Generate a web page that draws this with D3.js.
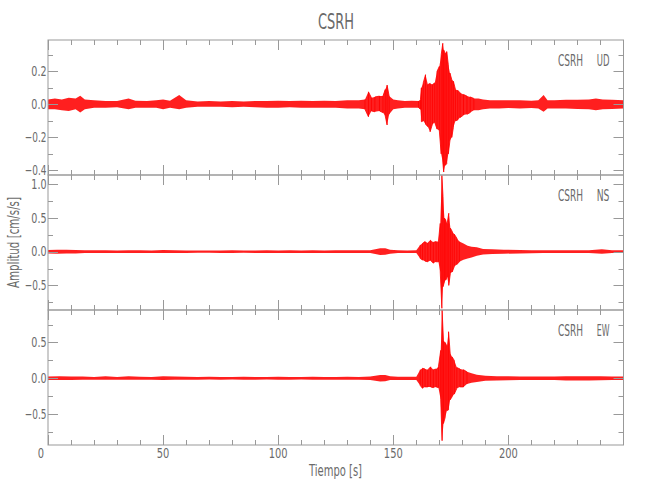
<!DOCTYPE html>
<html>
<head>
<meta charset="utf-8">
<script src="https://cdn.jsdelivr.net/npm/d3@7"></script>
<style>
  body { margin: 0; background: #fff; }
  svg { display: block; }
  text { font-family: "Liberation Sans Narrow", "DejaVu Sans Condensed", "Liberation Sans", sans-serif; fill: #6a6a6a; }
</style>
</head>
<body>
<svg id="chart" width="650" height="500"></svg>
<script>
// ---------------- data ----------------
const stationName = "CSRH";
const channels = ["UD", "NS", "EW"];
const xLabel = "Tiempo [s]";
const yLabel = "Amplitud [cm/s/s]";
const timeDomain = [0, 250];
const xMajorTicks = [0, 50, 100, 150, 200];
const xMinorStep = 10;

const udDomain = [-0.428, 0.39];
const nsDomain = [-0.865, 1.138];
const ewDomain = [-0.93, 0.953];
const udTicks = [-0.4, -0.2, 0.0, 0.2];
const nsTicks = [-0.5, 0.0, 0.5, 1.0];
const ewTicks = [-0.5, 0.0, 0.5];
const udMinorStep = 0.1;
const nsMinorStep = 0.25;
const ewMinorStep = 0.25;

// envelope readings: [time s, max, min]
const udEnvelope = [
  [0,0.03,-0.03],[3,0.035,-0.03],[6,0.03,-0.035],[9,0.04,-0.04],[12,0.035,-0.03],[14,0.052,-0.05],
  [16,0.03,-0.03],[20,0.025,-0.02],[25,0.02,-0.02],[30,0.02,-0.018],[35,0.035,-0.03],[38,0.022,-0.02],
  [43,0.02,-0.02],[47,0.025,-0.02],[50,0.03,-0.03],[53,0.022,-0.02],[57,0.056,-0.03],[60,0.025,-0.02],
  [65,0.018,-0.015],[70,0.02,-0.015],[75,0.018,-0.015],[80,0.02,-0.018],[85,0.018,-0.015],[90,0.02,-0.018],
  [95,0.02,-0.02],[100,0.022,-0.02],[105,0.02,-0.018],[110,0.022,-0.02],[115,0.02,-0.02],[120,0.022,-0.02],
  [125,0.02,-0.02],[130,0.025,-0.025],[135,0.025,-0.025],[137.7,0.03,-0.03],[139.2,0.076,-0.075],
  [140.5,0.04,-0.04],[142,0.045,-0.045],[144,0.05,-0.04],[145.5,0.05,-0.05],[146.5,0.09,-0.07],
  [147.3,0.117,-0.125],[148.2,0.05,-0.06],[150,0.03,-0.03],[152,0.025,-0.025],[155,0.02,-0.02],
  [158,0.022,-0.02],[161,0.02,-0.02],[161.8,0.03,-0.03],[162.2,0.1,-0.105],[163,0.13,-0.1],
  [164,0.18,-0.12],[165,0.12,-0.135],[166,0.127,-0.166],[167,0.12,-0.12],[168,0.13,-0.11],
  [169,0.2,-0.15],[170,0.23,-0.16],[170.8,0.3,-0.3],[171.5,0.37,-0.35],[171.9,0.33,-0.41],
  [172.5,0.31,-0.37],[173.2,0.32,-0.36],[173.9,0.24,-0.3],[174.6,0.19,-0.22],[175.4,0.15,-0.2],
  [176.1,0.14,-0.14],[177,0.09,-0.1],[178,0.085,-0.095],[179,0.07,-0.08],[180.5,0.06,-0.065],
  [182,0.05,-0.06],[183.4,0.045,-0.05],[185,0.036,-0.035],[187,0.035,-0.035],[189,0.03,-0.03],
  [192,0.025,-0.025],[196,0.025,-0.025],[200,0.025,-0.022],[205,0.025,-0.025],[210,0.022,-0.022],
  [213,0.025,-0.025],[215.3,0.056,-0.045],[217,0.025,-0.025],[220,0.025,-0.025],[225,0.028,-0.025],
  [230,0.028,-0.028],[235,0.03,-0.03],[238,0.035,-0.035],[241,0.03,-0.03],[245,0.028,-0.028],[250,0.025,-0.025]
];
const nsEnvelope = [
  [0,0.025,-0.025],[4,0.03,-0.03],[8,0.03,-0.025],[12,0.025,-0.025],[16,0.02,-0.02],[20,0.02,-0.018],
  [25,0.022,-0.018],[30,0.018,-0.018],[35,0.02,-0.018],[40,0.02,-0.018],[45,0.018,-0.018],[50,0.025,-0.02],
  [55,0.02,-0.02],[60,0.018,-0.018],[65,0.018,-0.015],[70,0.018,-0.015],[75,0.018,-0.018],[80,0.02,-0.018],
  [85,0.018,-0.015],[90,0.018,-0.018],[95,0.02,-0.018],[100,0.018,-0.018],[105,0.02,-0.018],[110,0.018,-0.018],
  [115,0.02,-0.02],[120,0.018,-0.018],[125,0.02,-0.02],[130,0.02,-0.018],[135,0.02,-0.02],[140,0.022,-0.02],
  [144.3,0.05,-0.05],[146.5,0.05,-0.045],[148.6,0.03,-0.03],[152,0.02,-0.02],[156,0.018,-0.018],
  [160,0.02,-0.02],[161.7,0.1,-0.1],[162.7,0.124,-0.124],[163.8,0.15,-0.14],[165,0.13,-0.15],
  [166.2,0.17,-0.13],[167.4,0.14,-0.17],[168.6,0.15,-0.15],[169.6,0.15,-0.15],[170.4,0.42,-0.3],
  [171.1,1.13,-0.84],[171.6,0.82,-0.52],[172.2,0.5,-0.45],[172.8,0.47,-0.42],[173.4,0.42,-0.37],
  [174.1,0.57,-0.5],[174.8,0.35,-0.32],[175.6,0.3,-0.3],[176.5,0.26,-0.22],[177.6,0.2,-0.19],
  [178.7,0.15,-0.15],[180.5,0.12,-0.12],[182.3,0.09,-0.1],[184,0.075,-0.085],[186.3,0.065,-0.06],
  [189,0.04,-0.04],[193,0.035,-0.035],[198,0.03,-0.03],[205,0.025,-0.025],[210,0.022,-0.022],
  [215,0.02,-0.02],[220,0.022,-0.02],[225,0.02,-0.02],[230,0.022,-0.02],[235,0.02,-0.02],
  [240.6,0.035,-0.03],[245,0.02,-0.02],[250,0.02,-0.02]
];
const ewEnvelope = [
  [0,0.025,-0.025],[5,0.03,-0.025],[10,0.025,-0.025],[15,0.025,-0.02],[20,0.02,-0.02],[25,0.03,-0.02],
  [30,0.02,-0.02],[35,0.03,-0.02],[40,0.022,-0.02],[45,0.02,-0.02],[50,0.03,-0.025],[55,0.025,-0.02],
  [60,0.022,-0.02],[65,0.02,-0.02],[70,0.022,-0.018],[75,0.02,-0.02],[80,0.02,-0.018],[85,0.022,-0.02],
  [90,0.02,-0.02],[95,0.02,-0.018],[100,0.022,-0.02],[105,0.02,-0.02],[110,0.02,-0.018],[115,0.022,-0.02],
  [120,0.02,-0.02],[125,0.02,-0.02],[130,0.022,-0.02],[135,0.02,-0.02],[140,0.025,-0.025],
  [144.3,0.046,-0.046],[146.5,0.045,-0.04],[148.6,0.03,-0.025],[152,0.023,-0.023],[156,0.022,-0.022],
  [160,0.023,-0.023],[161.7,0.12,-0.1],[162.7,0.14,-0.14],[163.8,0.13,-0.12],[165,0.12,-0.12],
  [166.2,0.16,-0.12],[167.4,0.12,-0.13],[168.6,0.13,-0.12],[169.6,0.16,-0.13],[170.6,0.39,-0.3],
  [171.2,0.95,-0.87],[171.8,0.53,-0.63],[172.5,0.5,-0.55],[173.3,0.45,-0.45],[174,0.65,-0.44],
  [174.7,0.35,-0.3],[175.5,0.3,-0.26],[176.5,0.25,-0.22],[177.6,0.15,-0.14],[179,0.13,-0.12],
  [180.5,0.12,-0.12],[182,0.09,-0.08],[184,0.07,-0.06],[186.3,0.05,-0.05],[190,0.035,-0.035],
  [195,0.03,-0.03],[200,0.028,-0.028],[205,0.025,-0.025],[210,0.025,-0.025],[215,0.025,-0.025],
  [220,0.025,-0.025],[225,0.03,-0.03],[230,0.03,-0.03],[235,0.03,-0.03],[240,0.028,-0.028],
  [245,0.025,-0.025],[250,0.025,-0.025]
];

const panels = [
  { ch: channels[0], env: udEnvelope, domain: udDomain, ticks: udTicks, minor: udMinorStep },
  { ch: channels[1], env: nsEnvelope, domain: nsDomain, ticks: nsTicks, minor: nsMinorStep },
  { ch: channels[2], env: ewEnvelope, domain: ewDomain, ticks: ewTicks, minor: ewMinorStep }
];

// ---------------- layout ----------------
const svg = d3.select("#chart");
const plotL = 48, plotR = 623.5, plotT = 40, panelH = 135;
const axisColor = "#999";
const traceColor = "#ff0000";
const fmt = d => (d < 0 ? "\u2212" : "") + Math.abs(d).toFixed(1);
// narrow label widths (Hershey-like font)
const labelWidth = s => {
  let w = 0;
  for (const c of s) w += (c === "." ? 3.6 : c === "\u2212" ? 6.5 : 5.8);
  return w;
};

const x = d3.scaleLinear().domain(timeDomain).range([plotL, plotR]);

function stepTicks(domain, step) {
  const out = [];
  const s = Math.ceil(domain[0] / step - 1e-9), e = Math.floor(domain[1] / step + 1e-9);
  for (let i = s; i <= e; i++) out.push(+(i * step).toFixed(6));
  return out;
}
const xMinor = stepTicks(timeDomain, xMinorStep).filter(v => v < timeDomain[1]);

panels.forEach((p, i) => {
  const y0 = plotT + i * panelH, y1 = y0 + panelH;
  const y = d3.scaleLinear().domain(p.domain).range([y1, y0]);
  const g = svg.append("g");

  const clipId = "clip" + i;
  svg.append("clipPath").attr("id", clipId)
    .append("rect").attr("x", plotL).attr("y", y0).attr("width", plotR - plotL).attr("height", panelH);

  const tg = g.append("g").attr("clip-path", `url(#${clipId})`);
  const area = d3.area().x(d => x(d[0])).y0(d => y(d[2])).y1(d => y(d[1]));
  tg.append("path").datum(p.env).attr("d", area)
    .attr("fill", traceColor).attr("fill-opacity", 0.88);

  // oscillation strokes between max and min readings where readings are dense
  const segs = [];
  let cur = [];
  p.env.forEach((d, k) => {
    const prev = p.env[k - 1], next = p.env[k + 1];
    const dense = (prev && d[0] - prev[0] < 1.6) || (next && next[0] - d[0] < 1.6);
    if (dense) {
      if (cur.length % 4 === 0) { cur.push([d[0], d[1]]); cur.push([d[0], d[2]]); }
      else { cur.push([d[0], d[2]]); cur.push([d[0], d[1]]); }
    } else if (cur.length) { segs.push(cur); cur = []; }
  });
  if (cur.length) segs.push(cur);
  const line = d3.line().x(d => x(d[0])).y(d => y(d[1]));
  segs.forEach(s => {
    tg.append("path").datum(s).attr("d", line)
      .attr("fill", "none").attr("stroke", traceColor).attr("stroke-width", 0.8);
  });

  // frame
  g.append("rect").attr("x", plotL).attr("y", y0).attr("width", plotR - plotL).attr("height", panelH)
    .attr("fill", "none").attr("stroke", axisColor).attr("stroke-width", 1);

  // y ticks (left & right, inward)
  const yMinor = stepTicks(p.domain, p.minor);
  yMinor.forEach(v => {
    const major = p.ticks.some(t => Math.abs(t - v) < 1e-6);
    const len = major ? 10 : 5;
    const yy = Math.round(y(v)) + 0.5;
    g.append("line").attr("x1", plotL).attr("x2", plotL + len).attr("y1", yy).attr("y2", yy).attr("stroke", axisColor);
    g.append("line").attr("x1", plotR).attr("x2", plotR - len).attr("y1", yy).attr("y2", yy).attr("stroke", axisColor);
  });
  p.ticks.forEach(v => {
    const s = fmt(v);
    g.append("text").attr("x", plotL - 1.5).attr("y", y(v) + 4.8)
      .attr("text-anchor", "end").attr("font-size", 13.5)
      .attr("textLength", labelWidth(s)).attr("lengthAdjust", "spacingAndGlyphs").text(s);
  });

  // x ticks (top & bottom, inward)
  xMinor.forEach(v => {
    const major = xMajorTicks.includes(v);
    const len = major ? 10 : 5;
    const xx = Math.round(x(v)) + 0.5;
    g.append("line").attr("x1", xx).attr("x2", xx).attr("y1", y1).attr("y2", y1 - len).attr("stroke", axisColor);
    g.append("line").attr("x1", xx).attr("x2", xx).attr("y1", y0).attr("y2", y0 + len).attr("stroke", axisColor);
  });

  // panel label
  const ly = [66, 200.7, 336][i];
  g.append("text").attr("x", 558).attr("y", ly).attr("font-size", 15)
    .attr("textLength", 25).attr("lengthAdjust", "spacingAndGlyphs").text(stationName);
  g.append("text").attr("x", 596.7).attr("y", ly).attr("font-size", 15)
    .attr("textLength", 12.7).attr("lengthAdjust", "spacingAndGlyphs").text(p.ch);
});

// x tick labels
const plotB = plotT + 3 * panelH;
xMajorTicks.forEach(v => {
  const s = String(v);
  svg.append("text").attr("x", x(v) - (v === 0 ? 7 : 0)).attr("y", plotB + 13)
    .attr("text-anchor", "middle").attr("font-size", 14)
    .attr("textLength", labelWidth(s) + 0.5 * s.length).attr("lengthAdjust", "spacingAndGlyphs").text(s);
});

// titles
svg.append("text").attr("x", 336).attr("y", 29).attr("text-anchor", "middle")
  .attr("font-size", 21).attr("textLength", 36).attr("lengthAdjust", "spacingAndGlyphs").text(stationName);
svg.append("text").attr("x", 335.5).attr("y", 476).attr("text-anchor", "middle")
  .attr("font-size", 15).attr("textLength", 53).attr("lengthAdjust", "spacingAndGlyphs").text(xLabel);
svg.append("text").attr("transform", "translate(19,242.5) rotate(-90)").attr("text-anchor", "middle")
  .attr("font-size", 15).attr("textLength", 91).attr("lengthAdjust", "spacingAndGlyphs").text(yLabel);
</script>
</body>
</html>
